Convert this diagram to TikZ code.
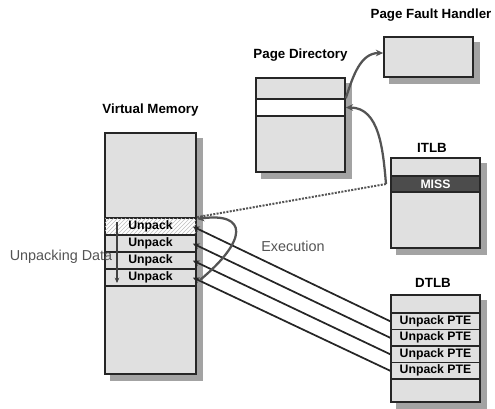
\documentclass[tikz,border=0pt]{standalone}
\usepackage{fontspec}
\setmainfont{Liberation Sans}
\usepackage{tikz}
\usetikzlibrary{arrows.meta, patterns, backgrounds}
\definecolor{boxgray}{gray}{0.88}
\definecolor{shadegray}{gray}{0.64}
\definecolor{missgray}{gray}{0.30}
\definecolor{linkgray}{gray}{0.33}

\begin{document}
\begin{tikzpicture}[x=0.75pt,y=-0.75pt,
    box/.style={draw=black!85, line width=1.3pt, fill=boxgray, inner sep=0pt},
    slot/.style={draw=black!85, line width=1.2pt, fill=boxgray, inner sep=0pt,
        minimum height=12.75pt, font=\fontsize{9.2}{9}\selectfont\bfseries},
    title/.style={font=\fontsize{10}{12}\selectfont\bfseries},
    remark/.style={font=\fontsize{10.8}{12}\selectfont, text=linkgray},
    curvelink/.style={draw=linkgray, line width=1.7pt, -{Stealth[length=5.5pt,width=5pt]}},
    ptr/.style={draw=black!85, line width=1.3pt, -{Stealth[length=5pt,width=4.5pt]}}]
    \useasboundingbox (0,0) rectangle (495,408);

    % Virtual memory with the unpacked pages
    \node[box, minimum width=68.25pt, minimum height=180.75pt] (vm) at (150.5,253.5) {};
    \node[title] (vmlabel) at (150.5,110) {Virtual Memory};
    \node[slot, minimum width=68.25pt, fill=white,
        postaction={pattern=north east lines, pattern color=black!25}] (vm1) at (150.5,226.5) {};
    \node[font=\fontsize{9.2}{9}\selectfont\bfseries] (vm1text) at (150.5,226.5) {Unpack};
    \foreach \i/\y in {2/243.5,3/260.5,4/277.5} {
        \node[slot, minimum width=68.25pt] (vm\i) at (150.5,\y) {Unpack};
    }
    \node[remark] (unpacking) at (61,257) {Unpacking Data};
    \coordinate (scantop) at (117,222);
    \coordinate (scanend) at (117,283);
    \draw[draw=black!75, line width=1pt, -{Stealth[length=4pt,width=3.5pt]}] (scantop) -- (scanend);

    % Page directory and fault handler
    \node[box, minimum width=66.75pt, minimum height=70.5pt] (pd) at (300.5,125) {};
    \node[slot, minimum width=66.75pt, fill=white] (pdrow) at (300.5,107.5) {};
    \node[title] (pdlabel) at (300.5,55) {Page Directory};
    \node[box, minimum width=66.75pt, minimum height=30pt] (pfh) at (428.5,57) {};
    \node[title] (pfhlabel) at (431,15) {Page Fault Handler};

    % ITLB with the miss entry
    \node[box, minimum width=66.75pt, minimum height=67.5pt] (itlb) at (435.5,203) {};
    \node[slot, minimum width=66.75pt, minimum height=12pt, fill=missgray, text=white] (miss) at (435.5,184) {MISS};
    \node[title] (itlblabel) at (432,148) {ITLB};
    \coordinate (missfrom) at (386,184);

    % DTLB entries
    \node[box, minimum width=66.75pt, minimum height=80.25pt] (dtlb) at (435.5,348.5) {};
    \foreach \i/\y in {1/321.25,2/337.75,3/354.25,4/370.75} {
        \node[slot, minimum width=66.75pt, minimum height=12.375pt] (dt\i) at (435.5,\y) {Unpack PTE};
    }
    \node[title] (dtlblabel) at (433,283) {DTLB};

    % flat shadows behind the boxes
    \begin{scope}[on background layer]
        \foreach \b in {vm,pd,pfh,itlb,dtlb} {
            \fill[shadegray] ([shift={(6,6)}]\b.north west) rectangle ([shift={(6,6)}]\b.south east);
        }
    \end{scope}

    % links
    \draw[curvelink] (pdrow.north east) to[out=72,in=180] ([yshift=3pt]pfh.west);
    \draw[curvelink] (missfrom) to[out=95,in=0] (pdrow.east);
    \draw[draw=linkgray, line width=1.5pt, densely dotted] (missfrom) -- (vm1.north east);
    \foreach \i in {1,...,4} {
        \draw[ptr] (dt\i.west) -- ([xshift=-3pt]vm\i.east);
    }
    \coordinate (loopa) at (200,280);
    \coordinate (loopb) at (197,219);
    \draw[curvelink] (loopa) .. controls (248,240) and (248,212) .. (loopb);
    \node[remark] (exec) at (293,246) {Execution};
\end{tikzpicture}
\end{document}
